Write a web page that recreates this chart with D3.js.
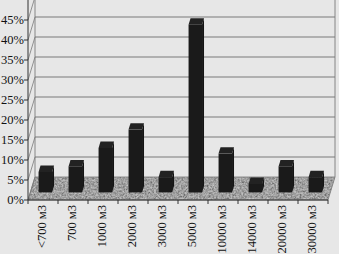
<!DOCTYPE html>
<html><head><meta charset="utf-8">
<script src="https://cdn.jsdelivr.net/npm/d3@7"></script>
<style>html,body{margin:0;padding:0;background:#e7e7e7;}svg{display:block;}</style>
</head><body>
<svg id="c" width="339" height="254"></svg>
<script>
const categories = ["<700 м3","700 м3","1000 м3","2000 м3","3000 м3","5000 м3","10000 м3","14000 м3","20000 м3","30000 м3"];
const values = [5.1, 6.5, 11.1, 15.7, 3.8, 41.9, 9.7, 2.1, 6.5, 3.8];
const yTicks = [0,5,10,15,20,25,30,35,40,45];
const gridValues = [0,5,10,15,20,25,30,35,40,45,50];

const svg = d3.select("#c");
const W = 339, H = 254;
const DX = 7, DY = 23;       // oblique depth offset
const x0 = 28, x1 = 328;
const y = d3.scaleLinear().domain([0, 50]).range([200, 0]);
const xAxisBand = d3.scaleBand().domain(categories).range([x0, x1]).padding(0);
const xBar = d3.scaleBand().domain(categories).range([x0, x1]).paddingInner(0.55).paddingOuter(0.275);
const proj = (xx, v, d) => [xx + d * DX, y(v) - d * DY];
const poly = pts => "M" + pts.map(p => p.join(",")).join("L") + "Z";

svg.append("rect").attr("width", W).attr("height", H).attr("fill", "#e7e7e7");

const defs = svg.append("defs");
const f = defs.append("filter").attr("id", "noise").attr("x", 0).attr("y", 0).attr("width", 1).attr("height", 1);
f.append("feTurbulence").attr("type", "fractalNoise").attr("baseFrequency", 0.55).attr("numOctaves", 3).attr("seed", 5).attr("result", "t");
f.append("feColorMatrix").attr("in", "t").attr("type", "matrix")
  .attr("values", "1.4 0 0 0 -0.25  1.4 0 0 0 -0.25  1.4 0 0 0 -0.25  0 0 0 0 0.45").attr("result", "n");
f.append("feComposite").attr("in", "n").attr("in2", "SourceGraphic").attr("operator", "in").attr("result", "nc");
f.append("feMerge").selectAll("feMergeNode").data(["SourceGraphic", "nc"]).join("feMergeNode").attr("in", d => d);

// floor
const floorPts = [proj(x0, 0, 0), proj(x1, 0, 0), proj(x1, 0, 1), proj(x0, 0, 1)];
svg.append("path").attr("d", poly(floorPts)).attr("fill", "#8e8e8e").attr("filter", "url(#noise)");
svg.append("path").attr("d", poly(floorPts)).attr("fill", "none").attr("stroke", "#777").attr("stroke-width", 0.8);

// back wall gridlines
const grid = svg.append("g").attr("stroke", "#7a7a7a").attr("stroke-width", 1.1);
gridValues.filter(v => v > 0).forEach(v => {
  const a = proj(x0, v, 1), b = proj(x1, v, 1);
  grid.append("line").attr("x1", a[0]).attr("y1", a[1]).attr("x2", b[0]).attr("y2", b[1]);
});
// side wall diagonals
gridValues.forEach(v => {
  const a = proj(x0, v, 0), b = proj(x0, v, 1);
  grid.append("line").attr("x1", a[0]).attr("y1", a[1]).attr("x2", b[0]).attr("y2", b[1]).attr("stroke-width", 0.8);
});
// wall edges
[[proj(x0, 0, 1), proj(x0, 60, 1)], [proj(x1, 0, 1), proj(x1, 60, 1)]].forEach(([a, b]) => {
  grid.append("line").attr("x1", a[0]).attr("y1", a[1]).attr("x2", b[0]).attr("y2", b[1]).attr("stroke-width", 0.9);
});

// bars
const f0 = 0.33, f1 = 0.61;
const bars = svg.append("g");
categories.forEach((c, i) => {
  const v = values[i];
  const xl = xBar(c), xr = xBar(c) + xBar.bandwidth();
  bars.append("path").attr("d", poly([proj(xr, 0, f0), proj(xr, 0, f1), proj(xr, v, f1), proj(xr, v, f0)])).attr("fill", "#141414");
  bars.append("path").attr("d", poly([proj(xl, v, f0), proj(xr, v, f0), proj(xr, v, f1), proj(xl, v, f1)])).attr("fill", "#222");
  bars.append("path").attr("d", poly([proj(xl, 0, f0), proj(xr, 0, f0), proj(xr, v, f0), proj(xl, v, f0)])).attr("fill", "#1a1a1a");
});

// front y axis
const ax = svg.append("g").attr("stroke", "#333");
ax.append("line").attr("x1", x0).attr("x2", x0).attr("y1", y(0)).attr("y2", y(50)).attr("stroke-width", 1);
yTicks.forEach(v => ax.append("line").attr("x1", x0 - 4).attr("x2", x0).attr("y1", y(v)).attr("y2", y(v)));
svg.append("g").selectAll("text").data(yTicks).join("text")
  .attr("x", x0 - 4).attr("y", d => y(d)).attr("dy", "0.35em").attr("text-anchor", "end")
  .attr("font-family", "Liberation Serif, serif").attr("font-size", 12.5).attr("fill", "#111")
  .text(d => d + "%");

// x axis
ax.append("line").attr("x1", x0).attr("x2", x1).attr("y1", y(0)).attr("y2", y(0));
const tickXs = categories.map(c => xAxisBand(c)).concat([x1]);
tickXs.forEach(t => ax.append("line").attr("x1", t).attr("x2", t).attr("y1", y(0)).attr("y2", y(0) + 4));
svg.append("g").selectAll("text").data(categories).join("text")
  .attr("transform", d => `translate(${xAxisBand(d) + xAxisBand.bandwidth() / 2 - 1.5},205) rotate(-90)`)
  .attr("dy", "0.35em").attr("text-anchor", "end")
  .attr("font-family", "Liberation Serif, serif").attr("font-size", 12.5).attr("fill", "#111")
  .text(d => d);
</script>
</body></html>
